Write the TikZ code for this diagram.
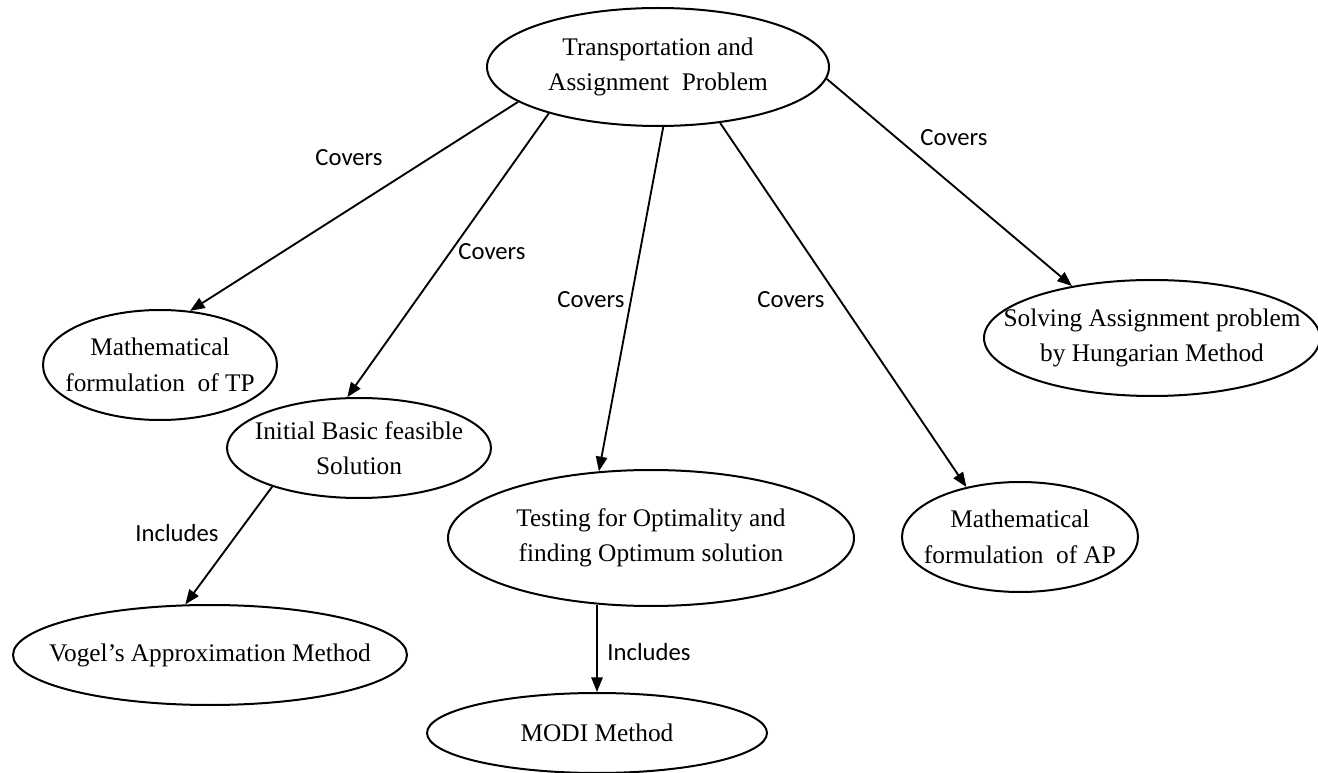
\documentclass[tikz,border=0pt]{standalone}
\usepackage{fontspec}
\setmainfont{Liberation Serif}
\newfontfamily\labelfont{Carlito}
\usetikzlibrary{shapes.geometric,arrows.meta}
\begin{document}
\begin{tikzpicture}[x=0.75pt,y=-0.75pt,
  oval/.style={draw, ellipse, line width=1.5pt, inner xsep=-40pt, inner ysep=-8pt,
    align=center, font=\fontsize{19}{26.5}\selectfont},
  conn/.style={line width=1.4pt, -{Triangle[length=11pt,width=8.5pt]}},
  lbl/.style={font=\labelfont\fontsize{18.5}{22}\selectfont, inner sep=0pt}]
\useasboundingbox (0,0) rectangle (1318,773);
\fill[white] (0,0) rectangle (1318,773);

\node[oval, minimum width=256.5pt, minimum height=88.5pt] (top) at (658,67)
  {Transportation and\\Assignment\ \ Problem};
\node[oval, minimum width=175.5pt, minimum height=82.5pt] (mtp) at (160,365)
  {Mathematical\\formulation\ \ of TP};
\node[oval, minimum width=198pt, minimum height=75pt] (ibfs) at (359,448)
  {Initial Basic feasible\\Solution};
\node[oval, minimum width=295.5pt, minimum height=75pt] (vam) at (210,655)
  {Vogel’s Approximation Method};
\node[oval, minimum width=304.5pt, minimum height=102pt] (test) at (651,538)
  {Testing for Optimality and\\finding Optimum solution};
\node[oval, minimum width=255pt, minimum height=60pt] (modi) at (597,733)
  {MODI Method};
\node[oval, minimum width=177pt, minimum height=82.5pt] (map) at (1020,537)
  {Mathematical\\formulation\ \ of AP};
\node[oval, minimum width=252pt, minimum height=87pt] (hung) at (1152,338)
  {Solving Assignment problem\\by Hungarian Method};

\draw[conn] (top.194) -- (mtp.61);
\draw[conn] (top.203) -- (ibfs.103);
\draw[conn] (top.275) -- (test.128);
\draw[conn] (top.318) -- (map.137);
\draw[conn] (top.356) -- (hung.147);
\draw[conn] (ibfs.204) -- (vam.116);
\draw[conn] (modi.north |- test.232) -- (modi.north);

\node[lbl] (c1) at (349,158) {Covers};
\node[lbl] (c2) at (492,252) {Covers};
\node[lbl] (c3) at (591,300) {Covers};
\node[lbl] (c4) at (791,300) {Covers};
\node[lbl] (c5) at (954,138) {Covers};
\node[lbl] (i1) at (177,533) {Includes};
\node[lbl] (i2) at (649,652) {Includes};
\end{tikzpicture}
\end{document}
